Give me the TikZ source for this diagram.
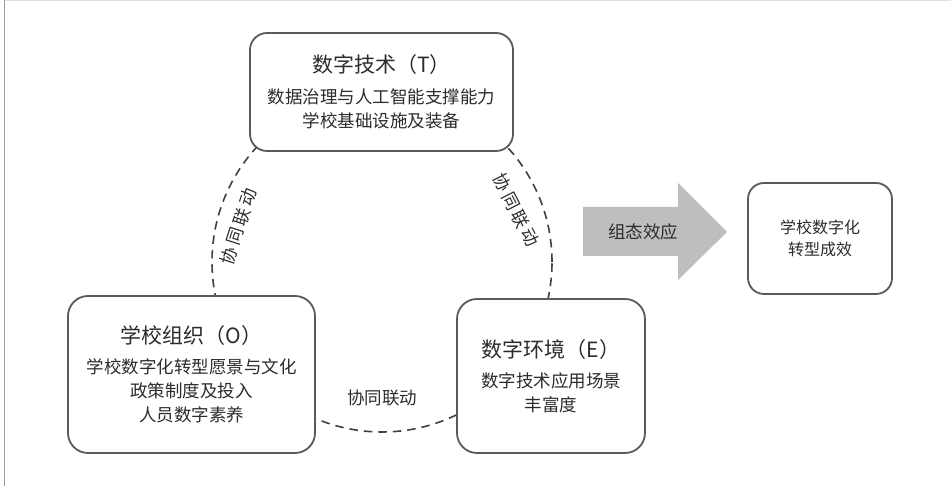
\documentclass[tikz,border=0pt]{standalone}
\usepackage{fontspec}
\setmainfont{Noto Sans CJK SC}
\definecolor{txt}{HTML}{2C2C2C}
\definecolor{boxline}{HTML}{5A5A5A}
\definecolor{dashline}{HTML}{404040}
\definecolor{arrowgray}{HTML}{BEBEBE}
\tikzset{
  box/.style={draw=boxline, line width=1.8pt, rounded corners=17pt, fill=white,
    align=center, text=txt, font=\fontsize{17.5}{24}\selectfont},
  linklabel/.style={text=txt, font=\fontsize{17.5}{20}\selectfont, inner sep=0pt},
  spaced/.style={font=\fontsize{17.5}{20}\selectfont\addfontfeature{LetterSpace=17}},
  ring/.style={draw=dashline, line width=1.6pt, dash pattern=on 8.5pt off 6pt},
}
\newcommand{\titlefnt}{\fontsize{21}{24}\selectfont}
\begin{document}
\begin{tikzpicture}[x=1pt,y=1pt]
\useasboundingbox (0,0) rectangle (951,486);
% frame lines
\draw[gray!75, line width=1.5pt] (4.5,0) -- (4.5,486);
\draw[gray!25, line width=1pt] (4.5,485.5) -- (951,485.5);
% dashed ring behind the boxes
\coordinate (c) at (382,224);
\draw[ring] (c) circle (170pt);
% boxes
\node[box, minimum width=263pt, minimum height=118pt] (T) at (381.5,394)
  {{\titlefnt 数字技术（T）}\\[7pt]数据治理与人工智能支撑能力\\学校基础设施及装备};
\node[box, minimum width=247pt, minimum height=157pt, rounded corners=20pt] (O) at (191.5,111.5)
  {{\titlefnt 学校组织（O）}\\[6pt]学校数字化转型愿景与文化\\政策制度及投入\\人员数字素养};
\node[box, minimum width=188pt, minimum height=154pt, rounded corners=20pt] (E) at (551,110)
  {{\titlefnt 数字环境（E）}\\[6pt]数字技术应用场景\\丰富度};
\node[box, minimum width=144pt, minimum height=111pt, rounded corners=16pt,
  font=\fontsize{16}{22}\selectfont] (R) at (820,247.5)
  {学校数字化\\转型成效};
% labels on the ring
\node[linklabel, spaced, rotate=72] (lblL) at (238.3,259.3) {协同联动};
\node[linklabel, spaced, rotate=-63] (lblR) at (516,276) {协同联动};
\node[linklabel] (lblB) at (382,88) {协同联动};
% big arrow
\fill[arrowgray] (583,279) -- (678,279) -- (678,303) -- (727,254) -- (678,206) -- (678,230) -- (583,230) -- cycle;
\node[linklabel] (eff) at (643,254) {组态效应};
\end{tikzpicture}
\end{document}
